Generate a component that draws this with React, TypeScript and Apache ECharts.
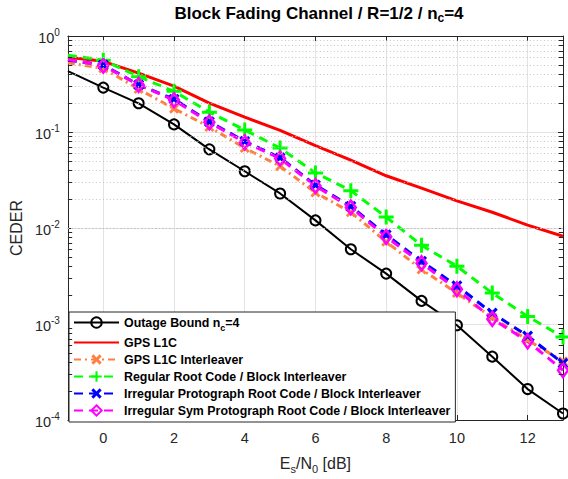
import React, { useEffect, useRef } from 'react';
import * as echarts from 'echarts';

const xValues = [-1, 0, 1, 2, 3, 4, 5, 6, 7, 8, 9, 10, 11, 12, 13];
const outageBound = [0.43, 0.29, 0.199, 0.12, 0.066, 0.039, 0.0229, 0.012, 0.006, 0.00335, 0.00174, 0.00097, 0.000457, 0.00021, 0.000117];
const gpsL1C = [0.6, 0.545, 0.41, 0.3, 0.2, 0.143, 0.104, 0.072, 0.051, 0.035, 0.026, 0.0192, 0.0146, 0.0107, 0.0082];
const gpsL1CInterleaver = [0.525, 0.46, 0.28, 0.175, 0.113, 0.068, 0.044, 0.0234, 0.0146, 0.0072, 0.0037, 0.0021, 0.00117, 0.00068, 0.00041];
const regularRoot = [0.63, 0.56, 0.377, 0.265, 0.161, 0.105, 0.068, 0.0375, 0.0245, 0.013, 0.0066, 0.004, 0.0021, 0.0012, 0.00073];
const irregularProto = [0.56, 0.5, 0.31, 0.22, 0.128, 0.08, 0.054, 0.028, 0.0168, 0.0085, 0.0045, 0.0025, 0.0013, 0.00075, 0.00039];
const irregularSym = [0.57, 0.49, 0.31, 0.215, 0.126, 0.078, 0.053, 0.0274, 0.0164, 0.0081, 0.0043, 0.0023, 0.00113, 0.00066, 0.00033];

const xTickLabels = ['0', '2', '4', '6', '8', '10', '12'];
const minorGridValues = [2, 3, 4, 5, 6, 7, 8, 9].flatMap((m) => [1e-4, 1e-3, 1e-2, 1e-1].map((d) => m * d));

const FONT = 'Liberation Sans, Arial, Helvetica, sans-serif';
const AXIS_COLOR = '#262626';
const plusPath = 'path://M4,0H6V4H10V6H6V10H4V6H0V4H4Z';
const crossPath = 'path://M0,2L2,0L5,3L8,0L10,2L7,5L10,8L8,10L5,7L2,10L0,8L3,5Z';

const toData = (vals: number[]) =>
  xValues.map((x, i) => (x < 0 ? { value: [x, vals[i]], symbol: 'none' } : { value: [x, vals[i]] }));

export default function App() {
  const ref = useRef<HTMLDivElement>(null);
  useEffect(() => {
    const chart = echarts.init(ref.current!, null, { renderer: 'svg' });
    const xMin = -1;
    const xMax = 13;
    const tickLen = 0.12;
    const option: any = {
      animation: false,
      backgroundColor: '#fff',
      title: {
        text: 'Block Fading Channel / R=1/2 / n{sub|c}=4',
        left: 314,
        textAlign: 'center',
        top: -3,
        textStyle: {
          fontFamily: FONT,
          fontSize: 17,
          fontWeight: 'bold',
          color: '#000',
          rich: {
            sub: { fontFamily: FONT, fontSize: 12, fontWeight: 'bold', color: '#000', padding: [10, 0, 0, 0] },
          },
        },
      },
      grid: { left: 66, right: 5, top: 36, bottom: 53, containLabel: false },
      legend: {
        orient: 'vertical',
        left: 69,
        top: 312,
        padding: [4, 5, 5, 4],
        itemGap: 4,
        itemWidth: 45,
        itemHeight: 13,
        backgroundColor: '#fff',
        borderColor: AXIS_COLOR,
        borderWidth: 1,
        borderRadius: 0,
        formatter: (name: string) => (name === 'Outage Bound nc=4' ? 'Outage Bound n{sub|c}=4' : name),
        textStyle: {
          fontFamily: FONT,
          fontSize: 12.4,
          fontWeight: 'bold',
          color: '#000',
          lineHeight: 13,
          rich: {
            sub: { fontFamily: FONT, fontSize: 9, fontWeight: 'bold', color: '#000', padding: [10, 0, 0, 0] },
          },
        },
        data: [
          { name: 'Outage Bound nc=4' },
          { name: 'GPS L1C', itemStyle: { color: 'rgba(0,0,0,0)', borderColor: 'rgba(0,0,0,0)', borderWidth: 0 } },
          { name: 'GPS L1C Interleaver' },
          { name: 'Regular Root Code / Block Interleaver' },
          { name: 'Irregular Protograph Root Code / Block Interleaver' },
          { name: 'Irregular Sym Protograph Root Code / Block Interleaver' },
        ],
      },
      xAxis: [
        {
          type: 'value',
          min: xMin,
          max: xMax,
          splitNumber: 7,
          name: 'E{sub|s}/N{sub|0} [dB]',
          nameLocation: 'middle',
          nameGap: 33,
          nameTextStyle: {
            fontFamily: FONT,
            fontSize: 16,
            color: AXIS_COLOR,
            rich: { sub: { fontFamily: FONT, fontSize: 11, color: AXIS_COLOR, padding: [10, 0, 0, 0] } },
          },
          axisLine: { show: true, onZero: false, lineStyle: { color: AXIS_COLOR, width: 1 } },
          axisTick: { show: true, inside: true, length: 5, lineStyle: { color: AXIS_COLOR } },
          axisLabel: {
            fontFamily: FONT,
            fontSize: 14.5,
            color: AXIS_COLOR,
            margin: 10,
            formatter: (v: number) => (xTickLabels.includes(String(v)) ? String(v) : ''),
          },
          splitLine: { show: true, lineStyle: { color: '#e3e3e3', width: 1 } },
        },
        {
          type: 'value',
          position: 'top',
          min: xMin,
          max: xMax,
          splitNumber: 7,
          axisLine: { show: true, onZero: false, lineStyle: { color: AXIS_COLOR, width: 1 } },
          axisTick: { show: true, inside: true, length: 5, lineStyle: { color: AXIS_COLOR } },
          axisLabel: { show: false },
          splitLine: { show: false },
        },
      ],
      yAxis: [
        {
          type: 'log',
          logBase: 10,
          min: 1e-4,
          max: 1,
          name: 'CEDER',
          nameLocation: 'middle',
          nameGap: 40,
          nameRotate: 90,
          nameTextStyle: { fontFamily: FONT, fontSize: 16, color: AXIS_COLOR },
          axisLine: { show: true, onZero: false, lineStyle: { color: AXIS_COLOR, width: 1 } },
          axisTick: { show: true, inside: true, length: 5, lineStyle: { color: AXIS_COLOR } },
          axisLabel: {
            margin: 8,
            formatter: (v: number) => `{b|10}{s|${Math.round(Math.log10(v))}}`,
            rich: {
              b: { fontFamily: FONT, fontSize: 14.5, color: AXIS_COLOR, verticalAlign: 'bottom' },
              s: { fontFamily: FONT, fontSize: 10, color: AXIS_COLOR, verticalAlign: 'top', padding: [0, 0, 8, 0] },
            },
          },
          splitLine: { show: true, lineStyle: { color: '#e3e3e3', width: 1 } },
        },
        {
          type: 'log',
          logBase: 10,
          min: 1e-4,
          max: 1,
          position: 'right',
          axisLine: { show: true, onZero: false, lineStyle: { color: AXIS_COLOR, width: 1 } },
          axisTick: { show: true, inside: true, length: 5, lineStyle: { color: AXIS_COLOR } },
          axisLabel: { show: false },
          splitLine: { show: false },
        },
      ],
      series: [
        {
          name: '__minorGrid',
          type: 'line',
          data: [],
          z: 1,
          silent: true,
          markLine: {
            silent: true,
            symbol: ['none', 'none'],
            label: { show: false },
            lineStyle: { color: '#c4c4c4', width: 1, type: [1, 2.5] },
            data: minorGridValues.map((v) => ({ yAxis: v })),
          },
        },
        {
          name: '__minorTicks',
          type: 'line',
          data: [],
          z: 1,
          silent: true,
          markLine: {
            silent: true,
            symbol: ['none', 'none'],
            label: { show: false },
            lineStyle: { color: AXIS_COLOR, width: 1, type: 'solid' },
            data: minorGridValues.flatMap((v) => [
              [{ coord: [xMin, v] }, { coord: [xMin + tickLen, v] }],
              [{ coord: [xMax - tickLen, v] }, { coord: [xMax, v] }],
            ]),
          },
        },
        {
          name: 'Outage Bound nc=4',
          type: 'line',
          z: 3,
          data: toData(outageBound),
          symbol: 'circle',
          symbolSize: 10,
          itemStyle: { color: 'rgba(0,0,0,0)', borderColor: '#000', borderWidth: 2 },
          lineStyle: { color: '#000', width: 2 },
        },
        {
          name: 'GPS L1C',
          type: 'line',
          z: 3,
          data: toData(gpsL1C),
          symbol: 'none',
          itemStyle: { color: '#ff0000' },
          lineStyle: { color: '#ff0000', width: 3 },
        },
        {
          name: 'GPS L1C Interleaver',
          type: 'line',
          z: 3,
          data: toData(gpsL1CInterleaver),
          symbol: crossPath,
          symbolSize: 10,
          itemStyle: { color: '#ff7f40', borderWidth: 0 },
          lineStyle: { color: '#ff7f40', width: 3, type: [7, 4, 2, 4] },
        },
        {
          name: 'Regular Root Code / Block Interleaver',
          type: 'line',
          z: 3,
          data: toData(regularRoot),
          symbol: plusPath,
          symbolSize: 15,
          itemStyle: { color: '#00ff00', borderWidth: 0 },
          lineStyle: { color: '#00ff00', width: 3, type: [9, 6] },
        },
        {
          name: 'Irregular Protograph Root Code / Block Interleaver',
          type: 'line',
          z: 3,
          data: toData(irregularProto),
          symbol: crossPath,
          symbolSize: 11,
          itemStyle: { color: '#0000ff', borderWidth: 0 },
          lineStyle: { color: '#0000ff', width: 3, type: [9, 6] },
        },
        {
          name: 'Irregular Sym Protograph Root Code / Block Interleaver',
          type: 'line',
          z: 3,
          data: toData(irregularSym),
          symbol: 'diamond',
          symbolSize: [10, 14],
          itemStyle: { color: 'rgba(0,0,0,0)', borderColor: '#ff00ff', borderWidth: 2.5 },
          lineStyle: { color: '#ff00ff', width: 3, type: [9, 6] },
        },
      ],
    };
    chart.setOption(option);
    return () => chart.dispose();
  }, []);
  return <div ref={ref} style={{ position: 'fixed', left: 0, top: 0, width: 568, height: 479 }} />;
}
